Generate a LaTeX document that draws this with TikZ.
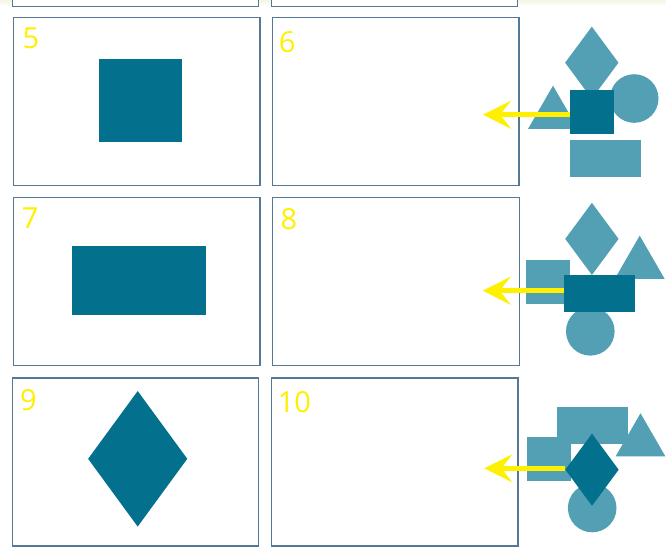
\documentclass[tikz,border=0pt]{standalone}
\usepackage{fontspec}
\usetikzlibrary{arrows.meta, positioning, shapes.geometric}
\usepackage{xcolor}
\newfontfamily\numfont{Open Sans}
\definecolor{slideframe}{RGB}{84,120,150}
\definecolor{darkteal}{RGB}{3,113,142}
\definecolor{lightteal}{RGB}{83,160,180}
\definecolor{signyellow}{RGB}{255,240,0}
\definecolor{topcream}{RGB}{244,245,226}

\begin{document}
\begin{tikzpicture}[x=1pt, y=-1pt]
    \tikzstyle{slide}=[draw=slideframe, line width=1.3pt, fill=white, minimum width=246.4pt, minimum height=168pt, inner sep=0pt]
    \tikzstyle{num}=[text=signyellow, font=\numfont\fontsize{29}{29}\selectfont, anchor=north west, inner sep=0pt]
    \tikzstyle{dark}=[fill=darkteal, inner sep=0pt]
    \tikzstyle{light}=[fill=lightteal, inner sep=0pt]
    \tikzstyle{sq}=[rectangle, minimum width=44pt, minimum height=43.7pt]
    \tikzstyle{bar}=[rectangle, minimum width=70.6pt, minimum height=36.8pt]
    \tikzstyle{dia}=[diamond, minimum width=53.5pt, minimum height=72.3pt]
    \tikzstyle{disc}=[circle, minimum size=48.6pt]
    \tikzstyle{tri}=[regular polygon, regular polygon sides=3, minimum size=57.5pt]
    \tikzstyle{pointer}=[draw=signyellow, line width=4.6pt, -{Stealth[length=28pt, width=28pt, inset=11pt]}]

    \useasboundingbox (0,0) rectangle (666,555);
    \shade[top color=topcream, bottom color=white] (0,0) rectangle (666,6);

    % slides of the row above, cut off
    \node[slide] (s3) at (135.4,-77.3) {};
    \node[slide] (s4) at (394.5,-77.3) {};

    % left column: filled slides, right column: empty slides
    \node[slide] (s5) at (136.8,101.3) {};
    \node[slide] (s6) at (395.9,101.3) {};
    \node[slide] (s7) at (136.7,281.5) {};
    \node[slide] (s8) at (396,281.7) {};
    \node[slide] (s9) at (135.4,462) {};
    \node[slide] (s10) at (394.8,462) {};

    \node[num] (n5) at (22.3,27.3) {5};
    \node[num] (n6) at (278.6,31.5) {6};
    \node[num] (n7) at (21.6,207.3) {7};
    \node[num] (n8) at (280.5,208) {8};
    \node[num] (n9) at (20,389) {9};
    \node[num] (n10) at (277.6,391) {10};

    \node[dark, rectangle, minimum width=82.8pt, minimum height=82.7pt] (big5) at (140.4,100.4) {};
    \node[dark, rectangle, minimum width=134pt, minimum height=69pt] (big7) at (139,280.5) {};
    \node[dark, diamond, minimum width=99.3pt, minimum height=135.7pt] (big9) at (137.7,458.8) {};

    % shape pile 1
    \node[light, dia] (d1) at (591.8,62.7) {};
    \node[light, disc] (c1) at (634.2,98.5) {};
    \node[light, tri] (t1) at (553,114.4) {};
    \node[light, bar] (r1) at (605.3,158.3) {};
    \coordinate (tip6) at (483,114.7);
    \node[dark, sq] (q1) at (592.2,111.8) {};
    \draw[pointer] (tip6 -| q1.west) -- (tip6);

    % shape pile 2
    \node[light, sq] (q2) at (548,281.9) {};
    \node[light, dia] (d2) at (591.9,238.9) {};
    \node[light, tri] (t2) at (639.7,264.4) {};
    \node[light, disc] (c2) at (590.3,331.3) {};
    \coordinate (tip8) at (482.7,290.7);
    \node[dark, bar] (r2) at (599.5,293.3) {};
    \draw[pointer] (tip8 -| r2.west) -- (tip8);

    % shape pile 3
    \node[light, bar] (r3) at (592.3,425.5) {};
    \node[light, sq] (q3) at (549.2,458.8) {};
    \node[light, tri] (t3) at (640.5,442) {};
    \node[light, disc] (c3) at (592.2,508) {};
    \coordinate (tip10) at (484.3,468.3);
    \node[dark, dia] (d3) at (592,469.7) {};
    \draw[pointer] (tip10 -| d3.west) -- (tip10);

\end{tikzpicture}
\end{document}
